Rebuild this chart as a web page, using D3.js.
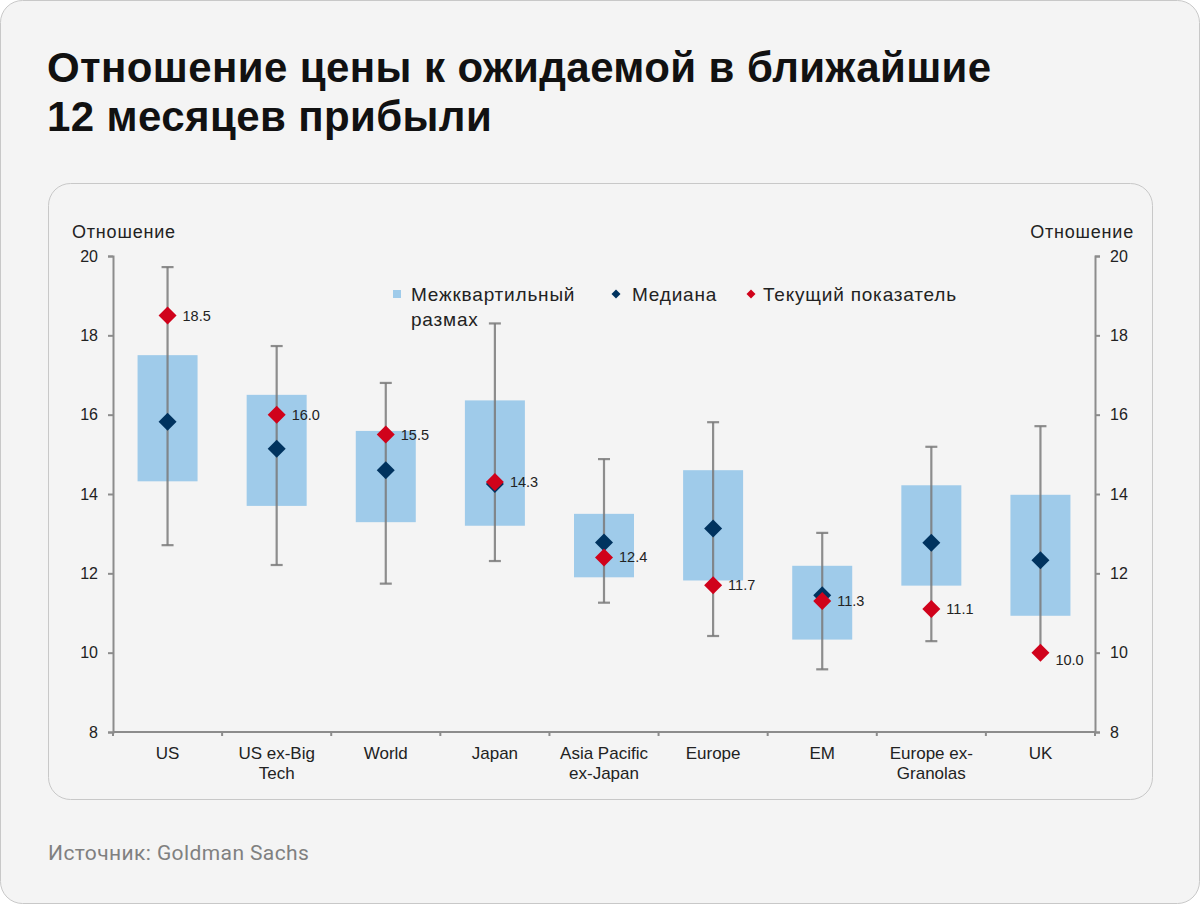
<!DOCTYPE html>
<html><head><meta charset="utf-8">
<script src="https://cdn.jsdelivr.net/npm/d3@7"></script>
<style>
html,body{margin:0;padding:0;background:#fff;}
svg{display:block;}
</style></head>
<body>
<svg id="c" width="1200" height="904"></svg>
<script>
const categories = ["US","US ex-Big\nTech","World","Japan","Asia Pacific\nex-Japan","Europe","EM","Europe ex-\nGranolas","UK"];
const whiskerHigh = [19.72,17.73,16.8,18.3,14.88,15.81,13.02,15.19,15.71];
const whiskerLow  = [12.71,12.21,11.74,12.31,11.26,10.42,9.58,10.29,10.0];
const q3 = [17.5,16.5,15.59,16.36,13.5,14.6,12.19,14.22,13.98];
const q1 = [14.32,13.7,13.29,13.2,11.9,11.82,10.33,11.69,10.93];
const median = [15.82,15.14,14.6,14.25,12.78,13.13,11.45,12.77,12.33];
const current = [18.5,16.0,15.5,14.3,12.4,11.7,11.3,11.1,10.0];
const currentLabels = ["18.5","16.0","15.5","14.3","12.4","11.7","11.3","11.1","10.0"];
const yTicks = [8,10,12,14,16,18,20];
const legendLabels = [["Межквартильный","размах"],["Медиана"],["Текущий показатель"]];

const svg = d3.select("#c");
const FONT = "'Liberation Sans', Arial, sans-serif";

// card
svg.append("rect").attr("x",0.5).attr("y",0.5).attr("width",1199).attr("height",903)
  .attr("rx",22).attr("fill","#f4f4f4").attr("stroke","#c8c8c8");
svg.append("rect").attr("x",48.5).attr("y",183.5).attr("width",1104).attr("height",616)
  .attr("rx",22).attr("fill","#f4f4f4").attr("stroke","#c8c8c8");

// title
const title = svg.append("text").attr("font-family",FONT)
  .attr("font-weight","bold").attr("font-size",42).attr("letter-spacing",0.4).attr("fill","#111");
title.append("tspan").attr("x",47).attr("y",82).text("Отношение цены к ожидаемой в ближайшие");
title.append("tspan").attr("x",47).attr("y",131).text("12 месяцев прибыли");

// source
svg.append("text").attr("x",48).attr("y",860).attr("font-family","Roboto, sans-serif")
  .attr("font-size",21).attr("letter-spacing",0.4).attr("fill","#808080").text("Источник: Goldman Sachs");

const x = d3.scaleBand().domain(categories).range([113,1095]);
const y = d3.scaleLinear().domain([8,20]).range([732,256]);

const AX = "#8c8c8c";
const gl = svg.append("g").attr("transform","translate(113,0)")
  .call(d3.axisLeft(y).tickValues(yTicks).tickSize(5).tickPadding(10));
const gr = svg.append("g").attr("transform","translate(1095,0)")
  .call(d3.axisRight(y).tickValues(yTicks).tickSize(5).tickPadding(10));
[gl,gr].forEach(g=>{
  g.select(".domain").attr("stroke",AX).attr("stroke-width",2);
  g.selectAll(".tick line").attr("stroke",AX).attr("stroke-width",2);
  g.selectAll(".tick text").attr("font-family",FONT).attr("font-size",16).attr("fill","#222");
});

// bottom axis
const gb = svg.append("g").attr("transform","translate(0,732)");
gb.append("line").attr("x1",113).attr("x2",1095).attr("stroke",AX).attr("stroke-width",2);
const bounds = categories.map(c=>x(c)).concat([x.range()[1]]);
gb.selectAll(".bt").data(bounds).join("line").attr("x1",d=>d).attr("x2",d=>d)
  .attr("y1",0).attr("y2",4).attr("stroke",AX).attr("stroke-width",2);
categories.forEach(c=>{
  const lines = c.split("\n");
  const t = gb.append("text").attr("font-family",FONT).attr("font-size",17).attr("fill","#222")
    .attr("text-anchor","middle");
  lines.forEach((l,i)=>t.append("tspan").attr("x",x(c)+x.bandwidth()/2).attr("y",27+i*20).text(l));
});

// axis titles
svg.append("text").attr("x",72).attr("y",238).attr("font-family",FONT).attr("font-size",18)
  .attr("letter-spacing",0.8).attr("fill","#222").text("Отношение");
svg.append("text").attr("x",1134).attr("y",238).attr("text-anchor","end").attr("font-family",FONT)
  .attr("font-size",18).attr("letter-spacing",0.8).attr("fill","#222").text("Отношение");

const idx = d3.range(categories.length);
const cx = i => x(categories[i]) + x.bandwidth()/2;
const BW = 60;

// boxes
svg.append("g").selectAll("rect").data(idx).join("rect")
  .attr("x",i=>cx(i)-BW/2).attr("width",BW)
  .attr("y",i=>y(q3[i])).attr("height",i=>y(q1[i])-y(q3[i]))
  .attr("fill","#9fcbea");

// whiskers
const wg = svg.append("g").attr("stroke","#7a7a7a").attr("stroke-width",2.2).attr("stroke-opacity",0.85);
wg.selectAll(".v").data(idx).join("line").attr("x1",cx).attr("x2",cx)
  .attr("y1",i=>y(whiskerHigh[i])).attr("y2",i=>y(whiskerLow[i]));
wg.selectAll(".ct").data(idx).join("line").attr("x1",i=>cx(i)-6).attr("x2",i=>cx(i)+6)
  .attr("y1",i=>y(whiskerHigh[i])).attr("y2",i=>y(whiskerHigh[i]));
wg.selectAll(".cb").data(idx).join("line").attr("x1",i=>cx(i)-6).attr("x2",i=>cx(i)+6)
  .attr("y1",i=>y(whiskerLow[i])).attr("y2",i=>y(whiskerLow[i]));

const diamond = (s)=>`M0,${-s}L${s},0L0,${s}L${-s},0Z`;
svg.append("g").selectAll("path").data(idx).join("path")
  .attr("d",diamond(9)).attr("transform",i=>`translate(${cx(i)},${y(median[i])})`)
  .attr("fill","#00335f");
svg.append("g").selectAll("path").data(idx).join("path")
  .attr("d",diamond(9)).attr("transform",i=>`translate(${cx(i)},${y(current[i])})`)
  .attr("fill","#d0021b");
svg.append("g").selectAll("text").data(idx).join("text")
  .attr("x",i=>cx(i)+15).attr("y",i=>y(current[i])+(i===8?12:5))
  .attr("font-family",FONT).attr("font-size",14.5).attr("fill","#222")
  .text(i=>currentLabels[i]);

// legend
const lg = svg.append("g").attr("font-family",FONT).attr("font-size",19).attr("letter-spacing",0.8).attr("fill","#222");
lg.append("rect").attr("x",393).attr("y",290).attr("width",8).attr("height",8).attr("fill","#9fcbea");
const lt = lg.append("text");
lt.append("tspan").attr("x",411).attr("y",301).text(legendLabels[0][0]);
lt.append("tspan").attr("x",411).attr("y",326).text(legendLabels[0][1]);
lg.append("path").attr("d",diamond(4.5)).attr("transform","translate(616,294)").attr("fill","#00335f");
lg.append("text").attr("x",632).attr("y",301).text(legendLabels[1][0]);
lg.append("path").attr("d",diamond(4.5)).attr("transform","translate(751,294)").attr("fill","#d0021b");
lg.append("text").attr("x",763).attr("y",301).text(legendLabels[2][0]);
</script>
</body></html>
